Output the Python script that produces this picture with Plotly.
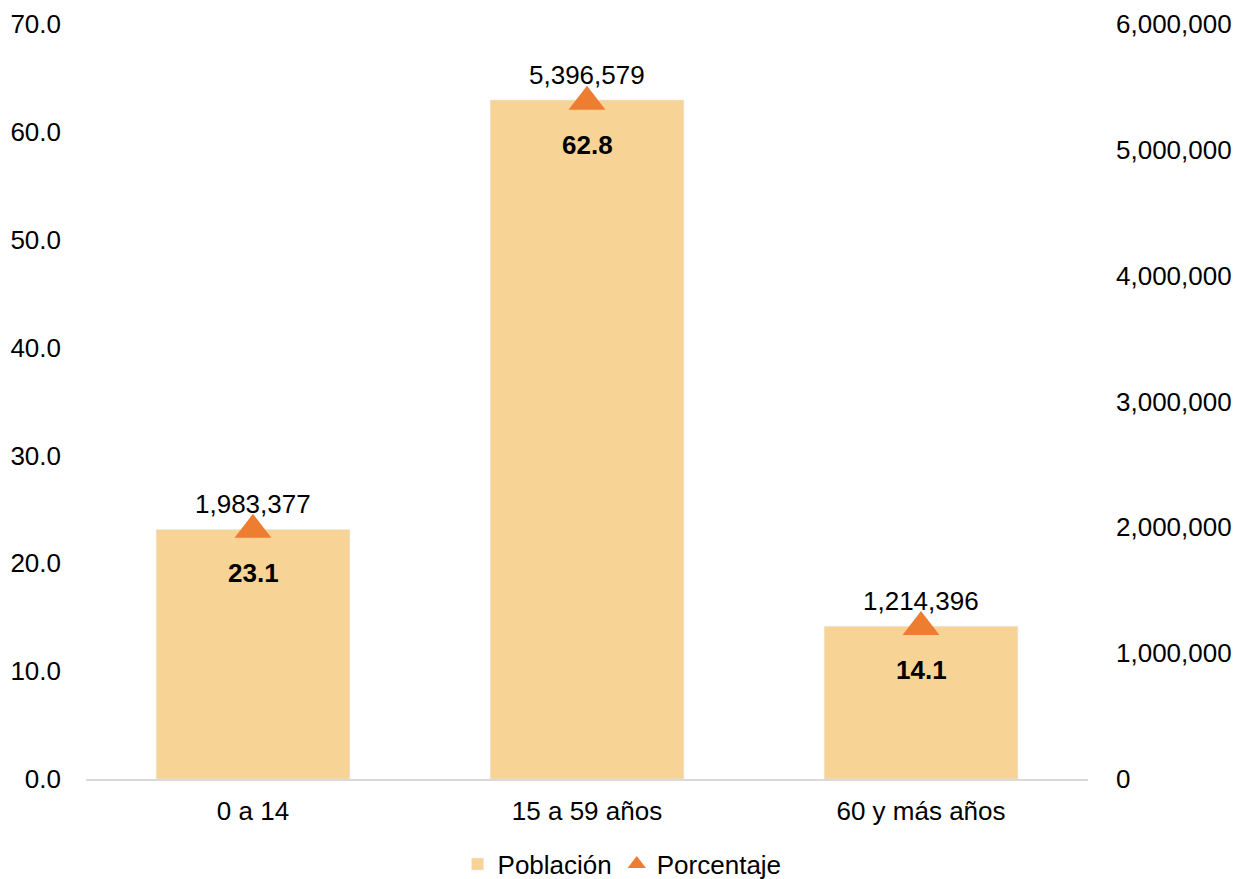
import plotly.graph_objects as go

categories = ["0 a 14", "15 a 59 años", "60 y más años"]
poblacion = [1983377, 5396579, 1214396]
porcentaje = [23.1, 62.8, 14.1]
left_ticks = [0, 10, 20, 30, 40, 50, 60, 70]
right_ticks = [0, 1000000, 2000000, 3000000, 4000000, 5000000, 6000000]

FONT = "Liberation Sans, Arial, sans-serif"
BAR_COLOR = "#F8D396"
TRI_COLOR = "#ED7D31"
FS = 26

fig = go.Figure()
fig.add_trace(go.Bar(
    x=categories, y=poblacion, name="Población",
    marker=dict(color=BAR_COLOR), width=0.58, yaxis="y",
))
fig.add_trace(go.Scatter(
    x=categories, y=porcentaje, name="Porcentaje", mode="markers",
    marker=dict(symbol="triangle-up", size=32, color=TRI_COLOR), yaxis="y2",
))

annotations = []
for c, p in zip(categories, poblacion):
    annotations.append(dict(x=c, y=p, xref="x", yref="y", text=f"{p:,}",
                            showarrow=False, yanchor="middle", yshift=25,
                            font=dict(size=FS, color="#000000", family=FONT)))
for c, v in zip(categories, porcentaje):
    annotations.append(dict(x=c, y=v, xref="x", yref="y2", text=f"<b>{v:.1f}</b>",
                            showarrow=False, yanchor="middle", yshift=-43,
                            font=dict(size=FS, color="#000000", family=FONT)))

fig.update_layout(
    width=1235, height=871,
    margin=dict(l=78, r=155, t=16, b=100),
    plot_bgcolor="white", paper_bgcolor="white",
    font=dict(family=FONT, size=FS, color="#000000"),
    bargap=0.42,
    xaxis=dict(showline=True, linecolor="#D9D9D9", linewidth=1.5, showgrid=False,
               ticks="", tickfont=dict(size=FS), automargin=False,
               ticklabelstandoff=8),
    yaxis=dict(side="right", range=[0, 6000000], tickvals=right_ticks,
               ticktext=[f"{t:,}" for t in right_ticks], showgrid=False,
               zeroline=False, showline=False, ticklabelstandoff=27,
               automargin=False),
    yaxis2=dict(side="left", overlaying="y", range=[0, 70], tickvals=left_ticks,
                ticktext=[f"{t:.1f}" for t in left_ticks], showgrid=False,
                zeroline=False, showline=False, ticklabelstandoff=24,
                automargin=False),
    legend=dict(orientation="h", x=0.535, xanchor="center", xref="paper",
                yref="container", y=0.017, yanchor="middle",
                font=dict(size=FS), itemwidth=30, tracegroupgap=0),
    annotations=annotations,
    showlegend=True,
)

fig.write_html("out.html")
